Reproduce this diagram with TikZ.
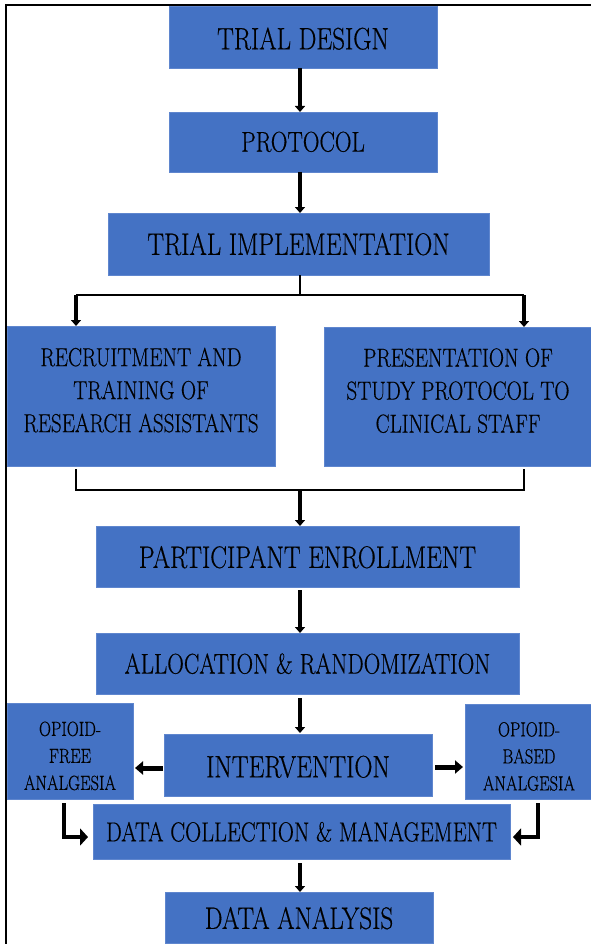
\documentclass[tikz,border=0pt]{standalone}
\usepackage{fontspec}
\usepackage{graphicx}
\newfontfamily\cfont{Latin Modern Roman}[FakeBold=0.5]
\usetikzlibrary{arrows.meta,calc}
\definecolor{boxblue}{HTML}{4472C4}
\definecolor{boxedge}{HTML}{5F86CE}
\newcommand{\cnd}[2][-10pt]{\raisebox{#1}[0pt][0pt]{\scalebox{0.81}[1]{\begin{tabular}{@{}c@{}}#2\end{tabular}}}}
\tikzset{
  box/.style={fill=boxblue, draw=boxedge, line width=0.8pt, inner sep=0pt, outer sep=0pt, align=center, text=black},
  fbig/.style={font=\cfont\fontsize{31}{38}\selectfont},
  fmid/.style={font=\cfont\fontsize{28.5}{34}\selectfont},
  fsmall/.style={font=\cfont\fontsize{27.5}{33}\selectfont},
  fpair/.style={font=\cfont\fontsize{26}{33}\selectfont},
  fop/.style={font=\cfont\fontsize{20.5}{27}\selectfont},
  arr/.style={line width=4pt, -{Triangle[length=6pt,width=10pt]}},
  sidearr/.style={line width=5pt, -{Triangle[length=8pt,width=13pt]}},
  elbowarr/.style={line width=4.5pt, -{Triangle[length=8pt,width=17pt]}},
  thinline/.style={line width=1.6pt},
  framestyle/.style={line width=2pt},
}
\begin{document}
\begin{tikzpicture}[x=1pt,y=-1pt]
\path[use as bounding box] (0,0) rectangle (591,944);
\clip (0,0) rectangle (591,944);
\fill[white] (0,0) rectangle (591,944);
% frame
\draw[framestyle] (6,950) -- (6,5) -- (600,5);
% boxes
\node[box,fbig,minimum width=268,minimum height=62] (td) at (303,37) {\cnd[-11pt]{TRIAL DESIGN}};
\node[box,fmid,minimum width=268,minimum height=60] (pr) at (303,142) {\cnd[-9pt]{PROTOCOL}};
\node[box,fbig,minimum width=381,minimum height=62] (impl) at (298.5,244) {\cnd[-9.5pt]{TRIAL IMPLEMENTATION}};
\node[box,fpair,minimum width=268,minimum height=140] (rec) at (141,396) {\cnd[-2.7pt]{RECRUITMENT AND\\TRAINING OF\\RESEARCH ASSISTANTS}};
\node[box,fpair,minimum width=268,minimum height=139] (pres) at (458,396.5) {\cnd[-2.7pt]{PRESENTATION OF\\STUDY PROTOCOL TO\\CLINICAL STAFF}};
\node[box,fbig,minimum width=423,minimum height=61] (pe) at (307.5,556.5) {\cnd[-10pt]{PARTICIPANT ENROLLMENT}};
\node[box,fmid,minimum width=423,minimum height=61] (ar) at (307.5,663.5) {\cnd[-9.5pt]{ALLOCATION \& RANDOMIZATION}};
\node[box,fbig,minimum width=268,minimum height=62] (iv) at (298,765) {\cnd[-11pt]{INTERVENTION}};
\node[box,fop,minimum width=126,minimum height=96] (of) at (70,751) {\cnd[-11.7pt]{OPIOID-\\FREE\\ANALGESIA}};
\node[box,fop,minimum width=128,minimum height=95] (ob) at (529,751.5) {\cnd[-11.7pt]{OPIOID-\\BASED\\ANALGESIA}};
\node[box,fsmall,minimum width=417,minimum height=55] (dc) at (301.5,831.5) {\cnd[-9.5pt]{DATA COLLECTION \& MANAGEMENT}};
\node[box,fbig,minimum width=268,minimum height=51] (da) at (299,917.5) {\cnd[-10pt]{DATA ANALYSIS}};
% helper coordinates
\coordinate (spine) at (300,0);
\coordinate (split) at (300,295);
\coordinate (lb) at (76,295);
\coordinate (rb) at (524,295);
\coordinate (bl) at (76,490);
\coordinate (br) at (524,490);
\coordinate (el) at (64,837);
\coordinate (er) at (538,837);
% connectors
\draw[arr] (td.south -| spine) -- (pr.north -| spine);
\draw[arr] (pr.south -| spine) -- (impl.north -| spine);
\draw[thinline] (impl.south -| spine) -- (split);
\draw[thinline] (lb) -- (rb);
\draw[arr] (lb) -- (rec.north -| lb);
\draw[arr] (rb) -- (pres.north -| rb);
\draw[thinline] ([yshift=-3pt]rec.south -| bl) -- (bl) -- (br) -- ([yshift=-3pt]pres.south -| br);
\draw[arr] (bl -| spine) -- (pe.north -| spine);
\draw[arr] ([yshift=-3pt]pe.south -| spine) -- (ar.north -| spine);
\draw[arr] ([yshift=-4pt]ar.south -| spine) -- ([yshift=1pt]iv.north -| spine);
\draw[sidearr] ([yshift=-3pt,xshift=-1pt]iv.west) -- ([yshift=-3pt,xshift=2pt]iv.west -| of.east);
\draw[sidearr] ([yshift=-2pt,xshift=3pt]iv.east) -- ([yshift=-2pt,xshift=-2pt]iv.east -| ob.west);
\draw[elbowarr] ([yshift=-4pt]of.south -| el) -- (el) -- ([xshift=-5pt]dc.west |- el);
\draw[elbowarr] ([yshift=-4pt]ob.south -| er) -- (er) -- ([xshift=3pt]dc.east |- er);
\draw[arr] ([yshift=-4pt]dc.south -| spine) -- (da.north -| spine);
\end{tikzpicture}
\end{document}
